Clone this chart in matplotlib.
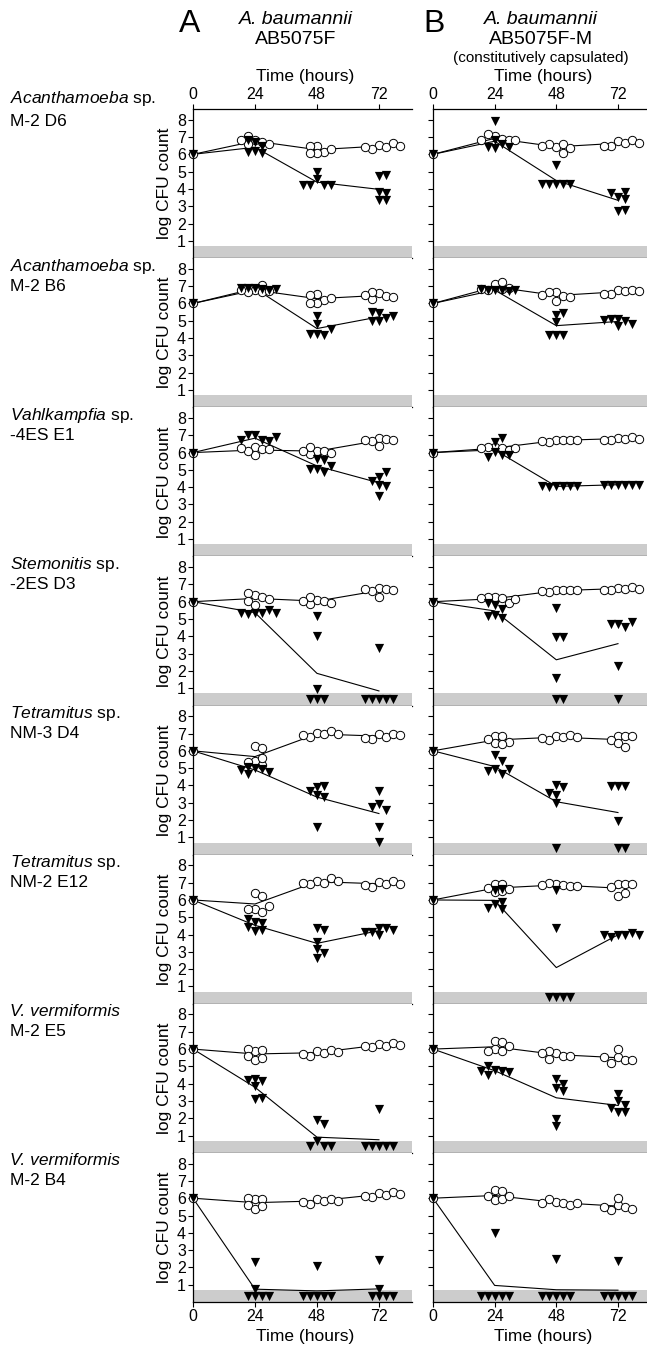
import numpy as np
import matplotlib
matplotlib.use("Agg")
import matplotlib.pyplot as plt

plt.rcParams["font.family"] = ["Liberation Sans", "DejaVu Sans"]
plt.rcParams["mathtext.fontset"] = "custom"
plt.rcParams["mathtext.rm"] = "Liberation Sans"
plt.rcParams["mathtext.it"] = "Liberation Sans:italic"

# ---- data: log CFU counts, one list per sampling time (24, 48, 72 h) ----
TIMES = [0, 24, 48, 72]
START = 6.0          # inoculum at t = 0 (both series)
LOD = 0.7            # detection limit band

# (organism, is "sp.", strain)
ROW_LABELS = [
    ("Acanthamoeba", True, "M-2 D6"),
    ("Acanthamoeba", True, "M-2 B6"),
    ("Vahlkampfia", True, "-4ES E1"),
    ("Stemonitis", True, "-2ES D3"),
    ("Tetramitus", True, "NM-3 D4"),
    ("Tetramitus", True, "NM-2 E12"),
    ("V. vermiformis", False, "M-2 E5"),
    ("V. vermiformis", False, "M-2 B4"),
]

# column A: AB5075F   (ctrl = open circles, amo = with amoeba, triangles)
ctrl_A1 = [[6.85, 6.7, 7.05, 6.6, 6.6, 6.8], [6.5, 6.15, 6.5, 6.05, 6.1, 6.3], [6.55, 6.45, 6.3, 6.65, 6.4, 6.5]]
amo_A1 = [[6.2, 6.7, 6.1, 6.5, 6.15, 6.8], [4.55, 4.25, 4.95, 4.2, 4.2, 4.2], [3.85, 4.75, 3.75, 3.35, 4.8, 3.35]]
ctrl_A2 = [[6.8, 6.65, 7.05, 6.65, 6.7, 6.8], [6.55, 6.2, 6.5, 6.05, 6.05, 6.3], [6.6, 6.45, 6.25, 6.65, 6.35, 6.5]]
amo_A2 = [[6.9, 6.85, 6.9, 6.8, 6.9, 6.85], [5.25, 4.8, 4.25, 4.2, 4.25, 4.55], [5.45, 5.15, 5.5, 5.0, 5.0, 5.25]]
ctrl_A3 = [[6.3, 6.2, 5.85, 6.1, 6.2, 6.25], [6.1, 6.1, 5.9, 6.3, 6.0, 6.1], [6.85, 6.8, 6.4, 6.65, 6.75, 6.75]]
amo_A3 = [[7.0, 6.75, 7.0, 6.65, 6.7, 6.9], [5.65, 5.55, 5.05, 4.85, 5.05, 5.2], [4.15, 4.6, 4.85, 4.05, 4.35, 3.5]]
ctrl_A4 = [[6.4, 6.25, 6.5, 6.15, 6.05, 5.8], [6.1, 6.05, 5.85, 6.25, 5.9, 6.05], [6.8, 6.75, 6.3, 6.6, 6.65, 6.75]]
amo_A4 = [[5.35, 5.35, 5.3, 5.5, 5.35, 5.35], [5.15, 4.0, 0.95, 0.35, 0.35, 0.35], [3.3, 0.35, 0.35, 0.35, 0.35, 0.35]]
ctrl_A5 = [[6.3, 6.15, 5.4, 5.2, 5.35, 5.6], [7.05, 6.95, 6.8, 7.15, 6.9, 7.0], [6.95, 6.8, 6.7, 7.0, 6.75, 6.9]]
amo_A5 = [[5.0, 4.95, 5.05, 4.65, 4.8, 4.9], [3.45, 3.35, 3.9, 3.95, 3.7, 1.6], [3.65, 2.9, 2.6, 2.75, 1.6, 0.75]]
ctrl_A6 = [[6.4, 6.25, 5.5, 5.3, 5.5, 5.65], [7.1, 7.0, 6.9, 7.25, 7.0, 7.1], [7.05, 6.9, 6.75, 7.1, 6.85, 6.95]]
amo_A6 = [[4.75, 4.65, 4.9, 4.45, 4.2, 4.25], [4.4, 4.25, 3.55, 3.15, 2.95, 2.65], [4.4, 4.4, 4.0, 4.15, 4.25, 4.15]]
ctrl_A7 = [[5.9, 5.95, 6.0, 5.6, 5.35, 5.5], [5.9, 5.75, 5.6, 5.95, 5.7, 5.85], [6.3, 6.2, 6.1, 6.35, 6.2, 6.25]]
amo_A7 = [[4.25, 4.15, 4.2, 3.85, 3.1, 3.2], [1.9, 1.65, 0.7, 0.4, 0.4, 0.4], [2.55, 0.4, 0.4, 0.4, 0.4, 0.4]]
ctrl_A8 = [[5.95, 5.95, 6.0, 5.6, 5.4, 5.55], [5.95, 5.85, 5.65, 5.95, 5.8, 5.85], [6.3, 6.2, 6.05, 6.35, 6.15, 6.25]]
amo_A8 = [[2.3, 0.75, 0.35, 0.35, 0.35, 0.35], [2.1, 0.35, 0.35, 0.35, 0.35, 0.35], [2.4, 0.75, 0.35, 0.35, 0.35, 0.35]]

# column B: AB5075F-M (constitutively capsulated)
ctrl_B1 = [[7.05, 6.9, 7.15, 6.8, 6.85, 6.8], [6.45, 6.6, 6.1, 6.6, 6.35, 6.5], [6.75, 6.65, 6.5, 6.8, 6.5, 6.65]]
amo_B1 = [[6.8, 7.95, 6.35, 6.6, 6.45, 6.4], [4.3, 4.3, 4.3, 5.4, 4.3, 4.3], [3.55, 3.8, 3.4, 2.75, 3.75, 2.8]]
ctrl_B2 = [[7.1, 6.85, 7.25, 6.8, 6.9, 6.85], [6.65, 6.45, 6.65, 6.15, 6.35, 6.5], [6.75, 6.7, 6.55, 6.8, 6.55, 6.7]]
amo_B2 = [[6.8, 6.75, 6.75, 6.7, 6.85, 6.8], [5.35, 5.45, 4.9, 4.2, 4.2, 4.2], [5.1, 5.0, 5.1, 4.7, 4.8, 5.05]]
ctrl_B3 = [[6.3, 6.25, 6.35, 6.15, 6.25, 6.25], [6.75, 6.7, 6.6, 6.75, 6.65, 6.75], [6.85, 6.8, 6.75, 6.9, 6.75, 6.8]]
amo_B3 = [[6.05, 6.6, 6.85, 5.85, 5.75, 5.85], [4.05, 4.05, 4.0, 4.05, 4.05, 4.05], [4.15, 4.15, 4.1, 4.15, 4.15, 4.15]]
ctrl_B4 = [[6.25, 6.2, 6.3, 5.95, 6.2, 6.15], [6.65, 6.65, 6.55, 6.7, 6.6, 6.65], [6.8, 6.75, 6.7, 6.85, 6.7, 6.75]]
amo_B4 = [[5.8, 5.6, 5.95, 5.25, 5.05, 5.15], [5.65, 3.95, 3.95, 1.6, 0.35, 0.35], [4.7, 4.55, 4.7, 4.85, 2.3, 0.35]]
ctrl_B5 = [[6.85, 6.85, 6.45, 6.7, 6.5, 6.4], [6.85, 6.8, 6.65, 6.9, 6.75, 6.8], [6.85, 6.85, 6.65, 6.85, 6.45, 6.25]]
amo_B5 = [[5.75, 5.4, 4.95, 4.65, 4.85, 4.95], [4.05, 3.9, 3.45, 3.55, 3.0, 0.4], [3.95, 3.95, 3.95, 1.95, 0.4, 0.4]]
ctrl_B6 = [[6.9, 6.9, 6.45, 6.5, 6.7, 6.65], [6.9, 6.85, 7.0, 6.8, 6.85, 6.8], [6.9, 6.9, 6.75, 6.9, 6.25, 6.4]]
amo_B6 = [[6.55, 6.65, 5.75, 5.9, 5.45, 5.55], [6.6, 4.35, 0.4, 0.4, 0.4, 0.4], [4.0, 3.95, 3.85, 4.1, 4.0, 4.0]]
ctrl_B7 = [[6.45, 6.4, 6.0, 5.9, 5.9, 6.15], [5.8, 5.6, 5.45, 5.9, 5.6, 5.75], [5.55, 5.35, 6.0, 5.2, 5.35, 5.55]]
amo_B7 = [[4.8, 4.75, 5.0, 4.5, 4.7, 4.75], [4.25, 4.0, 3.75, 3.6, 1.95, 1.55], [3.4, 3.0, 2.75, 2.35, 2.35, 2.6]]
ctrl_B8 = [[6.45, 6.4, 6.1, 5.9, 5.95, 6.15], [5.8, 5.7, 5.95, 5.6, 5.7, 5.75], [5.6, 5.5, 6.0, 5.3, 5.35, 5.5]]
amo_B8 = [[4.0, 0.35, 0.35, 0.35, 0.35, 0.35], [2.5, 0.35, 0.35, 0.35, 0.35, 0.35], [2.35, 0.35, 0.35, 0.35, 0.35, 0.35]]

COL_A = [(ctrl_A1, amo_A1), (ctrl_A2, amo_A2), (ctrl_A3, amo_A3), (ctrl_A4, amo_A4),
         (ctrl_A5, amo_A5), (ctrl_A6, amo_A6), (ctrl_A7, amo_A7), (ctrl_A8, amo_A8)]
COL_B = [(ctrl_B1, amo_B1), (ctrl_B2, amo_B2), (ctrl_B3, amo_B3), (ctrl_B4, amo_B4),
         (ctrl_B5, amo_B5), (ctrl_B6, amo_B6), (ctrl_B7, amo_B7), (ctrl_B8, amo_B8)]

# ---- layout (pixels) ----
W, H = 647, 1347
TOP, BOTTOM = 109, 1302
PANEL_H = (BOTTOM - TOP) / 8.0
YMAX = 8.62
COLS = [(193, 219, 84.8), (433, 214, 83.3)]   # left, width, xmax
PX_PER_H = 2.58
PX_PER_LOG = PANEL_H / YMAX


def swarm(t, vals, step=2.7, mind=6.4):
    """spread overlapping points sideways (beeswarm-like)"""
    placed = []
    for v in vals:
        for k in [0, 1, -1, 2, -2, 3, -3, 4, -4]:
            x = t + k * step
            ok = True
            for px, py in placed:
                d = np.hypot((x - px) * PX_PER_H, (v - py) * PX_PER_LOG)
                if d < mind:
                    ok = False
                    break
            if ok:
                break
        placed.append((x, v))
    return placed


def draw_series(ax, groups, marker):
    means = [START] + [float(np.mean(g)) for g in groups]
    ax.plot(TIMES, means, color="k", lw=0.8, zorder=2)
    xs, ys = [0.0], [START]
    for t, g in zip(TIMES[1:], groups):
        for x, y in swarm(t, g):
            xs.append(x)
            ys.append(y)
    if marker == "o":
        ax.scatter(xs, ys, s=36, marker="o", facecolor="white", edgecolor="k",
                   linewidths=0.7, zorder=3, clip_on=False)
    else:
        ax.scatter(xs, ys, s=44, marker="v", color="k", linewidths=0,
                   zorder=4, clip_on=False)


fig = plt.figure(figsize=(W / 100, H / 100), dpi=100)


def ftext(x, y, s, **kw):
    fig.text(x / W, 1 - y / H, s, ha="center", va="center", **kw)


for ci, (left, width, xmax) in enumerate(COLS):
    data = COL_A if ci == 0 else COL_B
    for ri in range(8):
        top = TOP + ri * PANEL_H
        ax = fig.add_axes([left / W, 1 - (top + PANEL_H) / H, width / W, PANEL_H / H])
        ax.axhspan(0, LOD, color="#cccccc", lw=0, zorder=0)
        ctrl, amo = data[ri]
        draw_series(ax, ctrl, "o")
        draw_series(ax, amo, "v")

        ax.set_xlim(0, xmax)
        ax.set_ylim(0, YMAX)
        ax.set_yticks(range(1, 9))
        ax.set_xticks([0, 24, 48, 72])
        ax.spines["right"].set_visible(False)
        ax.spines["top"].set_visible(ri == 0)
        for sp in ax.spines.values():
            sp.set_linewidth(0.9)
        ax.tick_params(axis="y", direction="out", length=3.5, width=0.8,
                       labelsize=11.5, pad=1.5, labelleft=(ci == 0))
        ax.tick_params(axis="x", direction="out", length=3.5, width=0.8,
                       labelsize=11.5, pad=1.5, top=(ri == 0), labeltop=(ri == 0),
                       labelbottom=(ri == 7))
        if ci == 0:
            ax.set_ylabel("log CFU count", fontsize=12.5)
            ax.yaxis.set_label_coords(-0.095, 0.5)
            name, is_sp, strain = ROW_LABELS[ri]
            if ri == 0:
                y1, y2 = top - 10, top + 13
            else:
                y1, y2 = top + 8, top + 28
            if is_sp:
                fig.text(10 / W, 1 - y1 / H, r"$\mathit{%s}$ sp." % name,
                         ha="left", va="center", fontsize=12.5)
            else:
                fig.text(10 / W, 1 - y1 / H, name, style="italic",
                         ha="left", va="center", fontsize=12.5)
            fig.text(10 / W, 1 - y2 / H, strain, ha="left", va="center", fontsize=12.5)

# ---- headers ----
ftext(190, 24, "A", fontsize=23)
ftext(296, 19, "A. baumannii", fontsize=14, style="italic")
ftext(296, 40, "AB5075F", fontsize=14)
ftext(434, 24, "B", fontsize=23)
ftext(541, 19, "A. baumannii", fontsize=14, style="italic")
ftext(541, 40, "AB5075F-M", fontsize=14)
ftext(541, 58, "(constitutively capsulated)", fontsize=11)
ftext(305, 77, "Time (hours)", fontsize=12.5)
ftext(543, 77, "Time (hours)", fontsize=12.5)
ftext(305, 1336, "Time (hours)", fontsize=12.5)
ftext(543, 1336, "Time (hours)", fontsize=12.5)

fig.savefig("out.png", dpi=100)
